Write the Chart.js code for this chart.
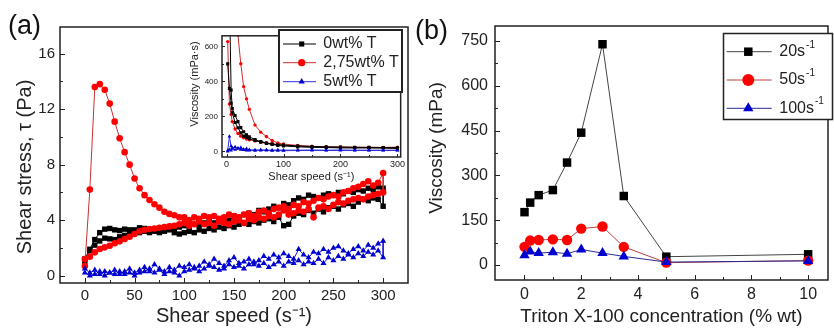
<!DOCTYPE html>
<html>
<head>
<meta charset="utf-8">
<script src="https://cdn.jsdelivr.net/npm/chart.js@4"></script>
<style>
  body { margin: 0; background: #fff; }
  #wrap { position: relative; width: 834px; height: 328px; background: #fff; overflow: hidden; }
  canvas { position: absolute; }
  .lbl { position: absolute; font: 27px Arial, "Liberation Sans", sans-serif; line-height: 27px; color: #111; }
</style>
</head>
<body>
<div id="wrap">
  <canvas id="chartA" width="415" height="328" style="left:0;top:0"></canvas>
  <canvas id="chartInset" width="222" height="160" style="left:185px;top:27px"></canvas>
  <canvas id="chartB" width="414" height="328" style="left:420px;top:0"></canvas>
  <div class="lbl" style="left:8px;top:12px">(a)</div>
  <div class="lbl" style="left:415px;top:17px">(b)</div>
</div>
<script>
// ---- panel (a): shear stress vs shear speed (ramp up, then ramp down) ----
const shearSpeed = [0,5,10,15,20,25,30,35,40,45,50,55,60,65,70,75,80,85,90,95,
  100,105,110,115,120,125,130,135,140,145,150,155,160,165,170,175,180,185,190,195,
  200,205,210,215,220,225,230,235,240,245,250,255,260,265,270,275,280,285,290,295,300];

const stress0Up = [1.2,1.9,2.6,3.1,3.35,3.4,3.3,3.25,3.35,3.3,
  3.3,3.45,3.4,3.3,3.25,3.35,3.3,3.4,3.35,3.5,
  3.6,3.5,3.7,3.65,3.8,3.9,3.8,4.0,4.1,4.0,
  4.3,4.2,4.4,4.5,4.4,4.7,4.6,4.8,5.0,4.9,
  5.2,5.1,5.4,5.6,5.5,5.8,5.7,5.6,5.8,5.9,
  5.8,6.0,5.9,6.1,6.0,6.2,6.1,6.3,6.2,6.4,6.3];
const stress0Down = [1.0,1.8,2.2,2.5,2.7,2.65,2.6,2.8,2.9,3.0,
  3.1,3.1,3.2,3.1,3.2,3.1,3.2,3.3,3.1,3.0,
  3.1,3.2,3.1,3.3,3.2,3.4,3.3,3.5,3.4,3.6,
  3.5,3.7,3.8,3.7,3.9,3.8,4.0,4.1,3.9,4.2,
  3.6,3.7,4.3,4.5,4.4,4.7,4.5,4.8,4.6,4.9,
  5.0,4.8,5.1,5.2,5.0,5.3,5.5,5.4,5.6,5.5,5.0];

const stress275Up = [0.7,6.2,13.6,13.8,13.4,12.4,11.1,9.9,8.9,8.0,
  7.0,6.3,5.8,5.45,5.15,4.9,4.6,4.45,4.35,4.2,
  4.2,4.0,4.2,4.1,4.3,4.2,4.3,4.1,4.2,4.4,
  4.3,4.2,4.4,4.5,4.3,4.6,4.7,4.5,4.8,4.9,
  5.0,4.8,5.1,5.0,5.3,5.2,5.4,5.6,5.5,5.7,
  5.8,5.7,6.0,6.1,6.3,6.4,6.6,6.8,6.5,6.7,7.4];
const stress275Down = [1.2,1.37,1.68,1.92,2.04,2.16,2.33,2.47,2.64,2.8,
  3.0,3.2,3.3,3.36,3.4,3.45,3.5,3.55,3.6,3.7,
  3.8,3.6,3.7,3.9,3.7,3.8,3.6,3.9,3.8,3.7,
  3.9,4.0,3.8,4.1,4.0,4.2,4.1,4.3,4.2,4.4,
  4.7,4.4,4.5,4.7,4.6,4.8,4.2,4.9,5.0,4.8,
  5.1,5.3,5.2,5.4,5.5,5.6,5.5,5.7,5.8,5.9,6.0];

const stress5Up = [0.5,0.2,0.4,0.1,0.3,0.2,0.4,0.1,0.3,0.5,
  0.2,0.4,0.6,0.3,0.8,0.5,0.3,0.6,0.4,0.7,
  0.6,0.8,0.5,0.7,1.0,0.8,1.2,0.9,0.7,1.1,
  1.3,0.9,1.0,1.2,0.8,1.1,1.4,1.2,1.5,1.3,
  1.6,1.4,1.2,1.9,1.5,1.3,1.7,1.6,1.9,1.7,
  2.0,2.1,1.8,1.6,1.9,2.1,1.8,2.2,2.0,2.3,2.5];
const stress5Down = [0.2,0.0,0.1,0.3,0.0,0.2,0.1,0.3,0.1,0.2,
  0.0,0.2,0.3,0.5,0.2,0.4,0.1,0.3,0.2,0.0,
  0.3,0.4,0.6,0.3,0.5,0.7,0.6,0.4,0.5,0.8,
  0.6,0.7,0.5,0.8,1.0,0.7,0.9,0.6,0.8,1.0,
  0.7,1.0,0.9,1.1,0.8,1.0,0.9,1.2,0.9,1.3,
  1.1,1.4,1.2,1.5,1.3,1.6,1.4,1.7,1.5,1.8,1.3];

const aXTicks = [0,50,100,150,200,250,300];
const aYTicks = [0,4,8,12,16];

// ---- inset: viscosity vs shear speed ----
const insetSpeed = [2,5,8,10,15,20,25,30,35,40,50,60,70,80,90,100,125,150,175,200,225,250,275,300];
const visc0Up = [1000,900,350,245,205,170,136,112,95,84,67,56,48,42,38,36,31,28,26,25,24,23,22,21];
const visc0Down = [500,360,275,220,165,135,106,87,80,72,62,53,45,40,34,31,26,23,22,20,20,20,19,17];
const visc275Up = [1500,1300,1400,1350,920,665,500,370,300,240,150,110,85,62,48,42,34,29,26,25,23,23,23,24];
const visc275Down = [627,270,210,170,128,102,87,78,71,66,60,55,49,44,40,37,31,27,24,22,21,21,20,20];
const visc5Up = [5,86,30,20,25,15,22,12,15,10,8,9,8,7,8,7,7,8,7,8,7,7,7,7];
const visc5Down = [0,10,5,15,10,18,10,8,6,5,4,5,5,4,4,4,5,5,5,5,5,5,5,5];
const insetXTicks = [0,100,200,300];
const insetYTicks = [0,200,400,600];
const seriesA = ['0wt% T', '2,75wt% T', '5wt% T'];

// ---- panel (b): viscosity vs Triton X-100 concentration ----
const concentration = [0,0.2,0.5,1,1.5,2,2.75,3.5,5,10];
const visc20 = [177,209,234,251,343,443,739,231,28,36];
const visc50 = [61,82,84,86,84,122,129,61,8,15];
const visc100 = [33,45,40,43,38,52,40,29,10,14];
const bXTicks = [0,2,4,6,8,10];
const bYTicks = [0,150,300,450,600,750];
const seriesB = ['20s', '50s', '100s'];

const FONT = 'Arial, "Liberation Sans", sans-serif';
const INK = '#222';

function sweep(xs, up, down) {
  const pts = xs.map((x, i) => ({x: x, y: up[i]}));
  for (let i = xs.length - 1; i >= 0; i--) pts.push({x: xs[i], y: down[i]});
  return pts;
}

function drawMarker(ctx, style, x, y, r, color) {
  ctx.fillStyle = color;
  ctx.beginPath();
  if (style === 'rect') {
    const s = r * Math.SQRT1_2;
    ctx.rect(x - s, y - s, 2 * s, 2 * s);
  } else if (style === 'triangle') {
    ctx.moveTo(x, y - r);
    ctx.lineTo(x + r * 0.866, y + r * 0.5);
    ctx.lineTo(x - r * 0.866, y + r * 0.5);
    ctx.closePath();
  } else {
    ctx.arc(x, y, r, 0, Math.PI * 2);
  }
  ctx.fill();
}

// box around the plot, inward ticks on bottom/left, and the rotated y title
function makeFrame(xMajor, yMajor, width, major, minor, yTitle) {
  return {
    id: 'frame',
    afterDatasetsDraw(chart) {
      const {ctx, chartArea: a, scales} = chart;
      ctx.save();
      ctx.strokeStyle = INK;
      ctx.lineWidth = width;
      ctx.strokeRect(a.left, a.top, a.right - a.left, a.bottom - a.top);
      ctx.lineWidth = 1;
      ctx.beginPath();
      xMajor.forEach((v, i) => {
        const p = Math.round(scales.x.getPixelForValue(v)) + 0.5;
        ctx.moveTo(p, a.bottom); ctx.lineTo(p, a.bottom - major);
        if (i < xMajor.length - 1) {
          const q = Math.round(scales.x.getPixelForValue((v + xMajor[i + 1]) / 2)) + 0.5;
          ctx.moveTo(q, a.bottom); ctx.lineTo(q, a.bottom - minor);
        }
      });
      yMajor.forEach((v, i) => {
        const p = Math.round(scales.y.getPixelForValue(v)) + 0.5;
        ctx.moveTo(a.left, p); ctx.lineTo(a.left + major, p);
        if (i < yMajor.length - 1) {
          const q = Math.round(scales.y.getPixelForValue((v + yMajor[i + 1]) / 2)) + 0.5;
          ctx.moveTo(a.left, q); ctx.lineTo(a.left + minor, q);
        }
      });
      ctx.stroke();
      // y title
      ctx.translate(yTitle.x, yTitle.y);
      ctx.rotate(-Math.PI / 2);
      ctx.fillStyle = INK;
      ctx.textAlign = 'center';
      ctx.textBaseline = 'middle';
      ctx.font = yTitle.size + 'px ' + FONT;
      ctx.fillText(yTitle.text, 0, 0);
      ctx.restore();
    }
  };
}

// legend box with line + marker samples, drawn from the datasets
function makeLegend(box) {
  return {
    id: 'legendBox',
    afterDraw(chart) {
      const ctx = chart.ctx;
      ctx.save();
      ctx.fillStyle = '#fff';
      ctx.fillRect(box.x, box.y, box.w, box.h);
      ctx.strokeStyle = INK;
      ctx.lineWidth = box.border;
      ctx.strokeRect(box.x, box.y, box.w, box.h);
      chart.data.datasets.forEach((ds, i) => {
        const y = box.rows[i];
        ctx.strokeStyle = ds.borderColor;
        ctx.lineWidth = 1;
        ctx.beginPath();
        ctx.moveTo(box.x1, y); ctx.lineTo(box.x2, y);
        ctx.stroke();
        drawMarker(ctx, ds.pointStyle, box.mx, y, box.r, ds.pointBackgroundColor);
        ctx.fillStyle = INK;
        ctx.textBaseline = 'middle';
        ctx.font = box.size + 'px ' + FONT;
        ctx.fillText(ds.label, box.tx, y);
        if (box.sup) {
          const w = ctx.measureText(ds.label).width;
          ctx.font = Math.round(box.size * 0.6) + 'px ' + FONT;
          ctx.fillText('-1', box.tx + w + 1, y - box.size * 0.42);
        }
      });
      ctx.restore();
    }
  };
}

function axis(min, max, ticks, size, pad, fixed, horizontal, title, titleSize, titlePad) {
  return {
    type: 'linear', min: min, max: max,
    grid: {display: false, drawTicks: false}, border: {display: false},
    afterBuildTicks: s => { s.ticks = ticks.map(v => ({value: v})); },
    afterFit: s => { if (horizontal) s.height = fixed; else s.width = fixed; },
    ticks: {padding: pad, color: INK, autoSkip: false, maxRotation: 0, font: {family: FONT, size: size}},
    title: {display: !!title, text: title || '', color: INK, font: {family: FONT, size: titleSize},
      padding: titlePad}
  };
}

function baseOptions(padding, xAxis, yAxis) {
  return {
    responsive: false, animation: false, devicePixelRatio: 1,
    layout: {padding: padding},
    plugins: {legend: {display: false}, tooltip: {enabled: false}},
    scales: {x: xAxis, y: yAxis}
  };
}

// panel (a)
new Chart(document.getElementById('chartA'), {
  type: 'scatter',
  data: {datasets: [
    {label: seriesA[0], data: sweep(shearSpeed, stress0Up, stress0Down), showLine: true,
      borderColor: '#000', borderWidth: 1, pointStyle: 'rect', pointRadius: 3.8,
      pointBackgroundColor: '#000', pointBorderWidth: 0, order: 3},
    {label: seriesA[1], data: sweep(shearSpeed, stress275Up, stress275Down), showLine: true,
      borderColor: '#c83030', borderWidth: 1, pointStyle: 'circle', pointRadius: 3.3,
      pointBackgroundColor: '#f00', pointBorderWidth: 0, order: 2},
    {label: seriesA[2], data: sweep(shearSpeed, stress5Up, stress5Down), showLine: true,
      borderColor: '#1a1ad0', borderWidth: 1, pointStyle: 'triangle', pointRadius: 3.5,
      pointBackgroundColor: '#0000d0', pointBorderWidth: 0, order: 1}
  ]},
  options: baseOptions({top: 27, right: 7, left: 0, bottom: 0},
    axis(-25, 325, aXTicks, 15, 4, 45, true, 'Shear speed (s\u207B\u00B9)', 20, {top: 0, bottom: 0}),
    axis(-0.53, 17.92, aYTicks, 15, 5, 60, false, null, 20, 0)),
  plugins: [makeFrame(aXTicks, aYTicks, 1.5, 5, 3,
    {text: 'Shear stress, \u03C4 (Pa)', x: 25, y: 167, size: 20})]
});

// inset of panel (a)
new Chart(document.getElementById('chartInset'), {
  type: 'scatter',
  data: {datasets: [
    {label: seriesA[0], data: sweep(insetSpeed, visc0Up, visc0Down), showLine: true,
      borderColor: '#000', borderWidth: 1, pointStyle: 'rect', pointRadius: 2.2,
      pointBackgroundColor: '#000', pointBorderWidth: 0, order: 2},
    {label: seriesA[1], data: sweep(insetSpeed, visc275Up, visc275Down), showLine: true,
      borderColor: '#c83030', borderWidth: 1, pointStyle: 'circle', pointRadius: 1.7,
      pointBackgroundColor: '#f00', pointBorderWidth: 0, order: 3},
    {label: seriesA[2], data: sweep(insetSpeed, visc5Up, visc5Down), showLine: true,
      borderColor: '#3030e0', borderWidth: 1, pointStyle: 'triangle', pointRadius: 2.2,
      pointBackgroundColor: '#0000d0', pointBorderWidth: 0, order: 1}
  ]},
  options: baseOptions({top: 2, right: 4, left: 0, bottom: 0},
    axis(-8, 305.7, insetXTicks, 9, 2, 30, true, 'Shear speed (s\u207B\u00B9)', 11, {top: 0, bottom: 3}),
    axis(-32, 660, insetYTicks, 8, 4, 37, false, null, 11, 0)),
  plugins: [makeFrame(insetXTicks, insetYTicks, 1.5, 3, 2,
      {text: 'Viscosity (mPa\u00B7s)', x: 10, y: 57, size: 11}),
    makeLegend({x: 94, y: 3, w: 123, h: 62, border: 2, rows: [17, 35.7, 54.7],
      x1: 98, x2: 131, mx: 116.7, r: 3.6, tx: 138.3, size: 16, sup: false})]
});

// panel (b)
new Chart(document.getElementById('chartB'), {
  type: 'scatter',
  data: {datasets: [
    {label: seriesB[0], data: concentration.map((c, i) => ({x: c, y: visc20[i]})), showLine: true,
      borderColor: '#444', borderWidth: 1, pointStyle: 'rect', pointRadius: 6,
      pointBackgroundColor: '#000', pointBorderWidth: 0, order: 3},
    {label: seriesB[1], data: concentration.map((c, i) => ({x: c, y: visc50[i]})), showLine: true,
      borderColor: '#b84040', borderWidth: 1, pointStyle: 'circle', pointRadius: 5.2,
      pointBackgroundColor: '#f00', pointBorderWidth: 0, order: 2},
    {label: seriesB[2], data: concentration.map((c, i) => ({x: c, y: visc100[i]})), showLine: true,
      borderColor: '#2a2a90', borderWidth: 1, pointStyle: 'triangle', pointRadius: 6,
      pointBackgroundColor: '#0000d0', pointBorderWidth: 0, order: 1}
  ]},
  options: baseOptions({top: 26, right: 1, left: 0, bottom: 0},
    axis(-1.04, 10.7, bXTicks, 16, 5, 48, true, 'Triton X-100 concentration (% wt)', 19, {top: 0, bottom: 0}),
    axis(-50, 800, bYTicks, 16, 7, 75, false, null, 19, 0)),
  plugins: [makeFrame(bXTicks, bYTicks, 1.5, 5, 3,
      {text: 'Viscosity (mPa)', x: 17, y: 148, size: 19}),
    makeLegend({x: 303.5, y: 33.5, w: 109, h: 86, border: 1.5, rows: [51.7, 80, 108.3],
      x1: 306.7, x2: 351.7, mx: 328.3, r: 6, tx: 359.3, size: 16, sup: true})]
});
</script>
</body>
</html>
